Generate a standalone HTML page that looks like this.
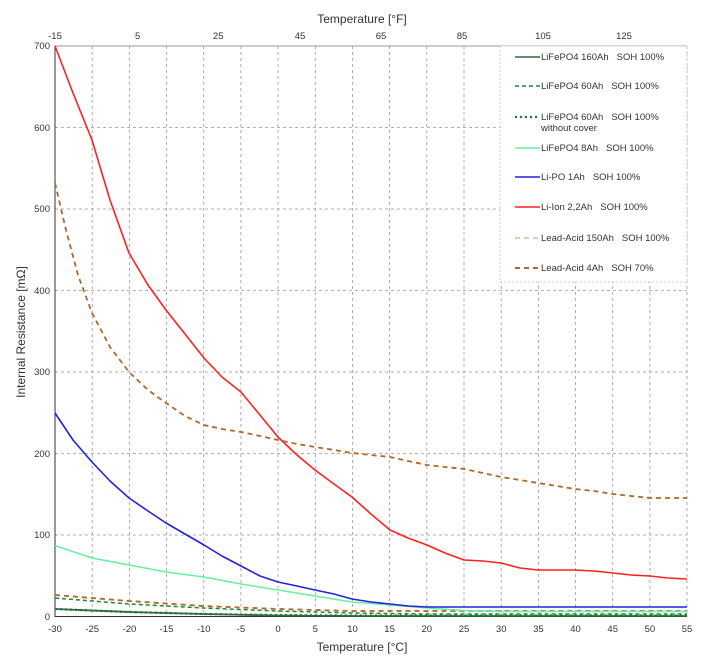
<!DOCTYPE html>
<html><head><meta charset="utf-8"><style>
body{margin:0;background:#fff;}
svg{display:block;font-family:"Liberation Sans",Arial,sans-serif;}
</style></head><body>
<svg width="707" height="657" viewBox="0 0 707 657" xml:space="preserve">
<rect width="707" height="657" fill="#fff"/>
<g stroke="#999" stroke-width="0.8" stroke-dasharray="3,3" fill="none">
<line x1="92.2" y1="46" x2="92.2" y2="616.5"/><line x1="129.4" y1="46" x2="129.4" y2="616.5"/>
<line x1="166.5" y1="46" x2="166.5" y2="616.5"/><line x1="203.7" y1="46" x2="203.7" y2="616.5"/>
<line x1="240.9" y1="46" x2="240.9" y2="616.5"/><line x1="278" y1="46" x2="278" y2="616.5"/>
<line x1="315.3" y1="46" x2="315.3" y2="616.5"/><line x1="352.5" y1="46" x2="352.5" y2="616.5"/>
<line x1="389.6" y1="46" x2="389.6" y2="616.5"/><line x1="426.8" y1="46" x2="426.8" y2="616.5"/>
<line x1="464" y1="46" x2="464" y2="616.5"/><line x1="501.2" y1="46" x2="501.2" y2="616.5"/>
<line x1="538.4" y1="46" x2="538.4" y2="616.5"/><line x1="575.5" y1="46" x2="575.5" y2="616.5"/>
<line x1="612.7" y1="46" x2="612.7" y2="616.5"/><line x1="649.9" y1="46" x2="649.9" y2="616.5"/>
<line x1="687" y1="46" x2="687" y2="616.5"/>
<line x1="55" y1="127.5" x2="687" y2="127.5"/><line x1="55" y1="209" x2="687" y2="209"/>
<line x1="55" y1="290.5" x2="687" y2="290.5"/><line x1="55" y1="372" x2="687" y2="372"/>
<line x1="55" y1="453.5" x2="687" y2="453.5"/><line x1="55" y1="535" x2="687" y2="535"/>
</g>
<line x1="55" y1="46" x2="687" y2="46" stroke="#999" stroke-width="1"/>
<line x1="55" y1="46" x2="55" y2="617" stroke="#333" stroke-width="1"/>
<line x1="55" y1="616.5" x2="687" y2="616.5" stroke="#333" stroke-width="1"/>
<g font-size="9.5" fill="#333" text-anchor="end">
<text x="50" y="49">700</text><text x="50" y="131">600</text><text x="50" y="212">500</text>
<text x="50" y="294">400</text><text x="50" y="375">300</text><text x="50" y="457">200</text>
<text x="50" y="538">100</text><text x="50" y="620">0</text>
</g>
<g font-size="9.5" fill="#333" text-anchor="middle">
<text x="55" y="632">-30</text><text x="92.2" y="632">-25</text><text x="129.4" y="632">-20</text>
<text x="166.5" y="632">-15</text><text x="203.7" y="632">-10</text><text x="240.9" y="632">-5</text>
<text x="278" y="632">0</text><text x="315.3" y="632">5</text><text x="352.5" y="632">10</text>
<text x="389.6" y="632">15</text><text x="426.8" y="632">20</text><text x="464" y="632">25</text>
<text x="501.2" y="632">30</text><text x="538.4" y="632">35</text><text x="575.5" y="632">40</text>
<text x="612.7" y="632">45</text><text x="649.9" y="632">50</text><text x="687" y="632">55</text>
<text x="55" y="39">-15</text><text x="137.6" y="39">5</text><text x="218.2" y="39">25</text>
<text x="300" y="39">45</text><text x="381" y="39">65</text><text x="462" y="39">85</text>
<text x="543" y="39">105</text><text x="624" y="39">125</text>
</g>
<text x="362" y="651" font-size="12" fill="#333" text-anchor="middle">Temperature  [°C]</text>
<text x="362" y="23" font-size="12" fill="#333" text-anchor="middle">Temperature  [°F]</text>
<text transform="translate(25,332) rotate(-90)" font-size="12" fill="#333" text-anchor="middle">Internal Resistance  [mΩ]</text>

<g fill="none" stroke-linejoin="round" stroke-linecap="butt">
<polyline stroke="#d9b99b" stroke-width="1.5" stroke-dasharray="5,4" points="55,595 129,601 203,606 278,609 352,611 427,611 501,611 575,611 650,611 687,611"/>
<polyline stroke="#b0682a" stroke-width="1.8" stroke-dasharray="5,4" points="55,595 129,601 203,606 278,609 352,611 427,611 501,611 575,611 650,611 687,611"/>
<polyline stroke="#1a8a3a" stroke-width="1.5" stroke-dasharray="4,3" points="55,598 129,604 203,608 278,611 352,613 427,614 501,614 575,614 650,614 687,614"/>
<polyline stroke="#0d8a2a" stroke-width="2.2" stroke-dasharray="2,3" points="55,609 129,612 203,614 278,615 352,615.5 687,615.5"/>
<polyline stroke="#2d6a3c" stroke-width="1.8" points="55,609 129,612 203,614 278,615.5 352,616 687,616"/>
<polyline stroke="#66f0a0" stroke-width="1.5" points="55,545.6 92,558 129,565 166,572 204,577 241,584 278,590 315,596 352,602 390,605 427,608 464,610.5 501,611.5 687,611.5"/>
<polyline stroke="#2222dd" stroke-width="1.6" points="55,413 73,440 92,462 110,481 129,498 148,511 166,523 185,534 204,545 222,556 241,566 260,576 278,582 297,586 315,590 334,594 352,599 371,602 390,604 408,606 427,607 687,607"/>
<polyline stroke="#ff2020" stroke-width="1.6" points="55,46 73,93 92,140 110,200 129,253 148,285 166,310 185,334 204,358 222,377 241,392 260,415 278,437 297,455 315,470 334,484 352,497 371,514 390,530 408,538 427,545 445,553 464,560 483,561 501,563 520,568 538,570 557,570 575,570 594,571 613,573 631,575 650,576 668,578 687,579"/>
<polyline stroke="#b0682a" stroke-width="1.8" stroke-dasharray="5,4" points="55,183 66,230 78,275 92,313 110,347 129,372 148,390 166,403 185,416 204,425 222,429 241,432 260,436 278,440 297,444 315,447 334,450 352,453 371,455 390,457 408,461 427,465 445,467 464,469 483,473 501,477 520,480 538,483 557,486 575,489 594,491 613,494 631,496 650,498 668,498 687,498"/>
</g>

<rect x="500" y="46" width="187" height="236" fill="#fff" stroke="#bbb" stroke-width="0.8" stroke-dasharray="2,2"/>
<g stroke-width="1.6" fill="none">
<line x1="515" y1="57" x2="540" y2="57" stroke="#2d6a3c"/>
<line x1="515" y1="86" x2="540" y2="86" stroke="#1a8a3a" stroke-dasharray="4,3"/>
<line x1="515" y1="117" x2="540" y2="117" stroke="#0d8a2a" stroke-width="2.2" stroke-dasharray="2,3"/>
<line x1="515" y1="148" x2="540" y2="148" stroke="#66f0a0"/>
<line x1="515" y1="177" x2="540" y2="177" stroke="#2222dd"/>
<line x1="515" y1="207" x2="540" y2="207" stroke="#ff2020"/>
<line x1="515" y1="238" x2="540" y2="238" stroke="#d9b99b" stroke-dasharray="5,4"/>
<line x1="515" y1="268" x2="540" y2="268" stroke="#b0682a" stroke-width="2" stroke-dasharray="5,4"/>
</g>
<g font-size="9.5" fill="#333">
<text x="541" y="60">LiFePO4 160Ah<tspan dx="8">SOH 100%</tspan></text>
<text x="541" y="89">LiFePO4 60Ah<tspan dx="8">SOH 100%</tspan></text>
<text x="541" y="120">LiFePO4 60Ah<tspan dx="8">SOH 100%</tspan></text>
<text x="541" y="131">without cover</text>
<text x="541" y="151">LiFePO4 8Ah<tspan dx="8">SOH 100%</tspan></text>
<text x="541" y="180">Li-PO 1Ah<tspan dx="8">SOH 100%</tspan></text>
<text x="541" y="210">Li-Ion 2,2Ah<tspan dx="8">SOH 100%</tspan></text>
<text x="541" y="241">Lead-Acid 150Ah<tspan dx="8">SOH 100%</tspan></text>
<text x="541" y="271">Lead-Acid 4Ah<tspan dx="8">SOH 70%</tspan></text>
</g>
</svg>
</body></html>
